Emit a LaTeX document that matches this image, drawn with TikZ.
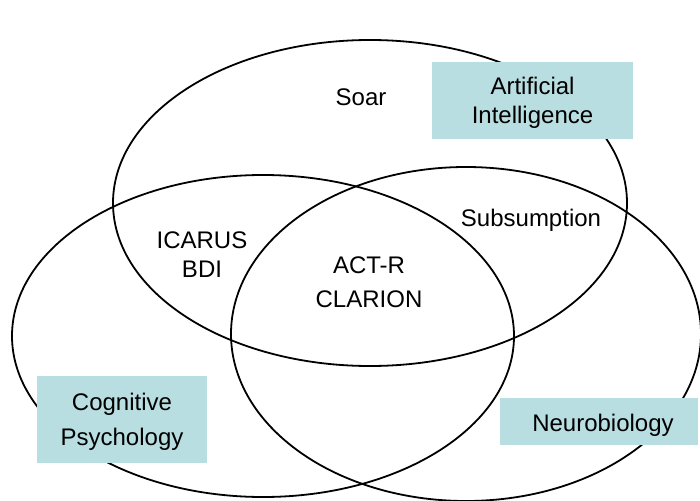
\documentclass[tikz,border=0pt]{standalone}
\usepackage{fontspec}
\setmainfont{Liberation Sans}
\definecolor{boxfill}{RGB}{185,222,225}
\begin{document}
\begin{tikzpicture}[x=1pt,y=-1pt,
  ring/.style={draw=black,line width=1.8pt},
  lbl/.style={font=\fontsize{24}{29}\selectfont,align=center,inner sep=0pt},
  field/.style={fill=boxfill,font=\fontsize{24}{29}\selectfont,align=center,inner sep=0pt}]
\useasboundingbox (0,0) rectangle (700,500);
\draw[ring] (370,203) ellipse [x radius=257,y radius=163];
\draw[ring] (263,336) ellipse [x radius=251,y radius=161];
\draw[ring] (466,334) ellipse [x radius=235,y radius=167];
\node[lbl] (soar) at (361,97) {Soar};
\node[lbl] (subs) at (531,220) {Subsumption};
\node[lbl] (icarus) at (202,255) {ICARUS\\BDI};
\node[lbl,font=\fontsize{24}{34}\selectfont] (actr) at (369,282) {ACT-R\\CLARION};
\node[field,minimum width=201,minimum height=77] (ai) at (532.5,100.5) {};
\node[lbl] (aitext) at (532.5,103) {Artificial\\Intelligence};
\node[field,minimum width=170,minimum height=87] (cp) at (122,419.5) {};
\node[lbl,font=\fontsize{24}{35}\selectfont] (cptext) at (122,422) {Cognitive\\Psychology};
\node[field,minimum width=198,minimum height=47] (nb) at (599,421.5) {};
\node[lbl] (nbtext) at (603,425) {Neurobiology};
\end{tikzpicture}
\end{document}
